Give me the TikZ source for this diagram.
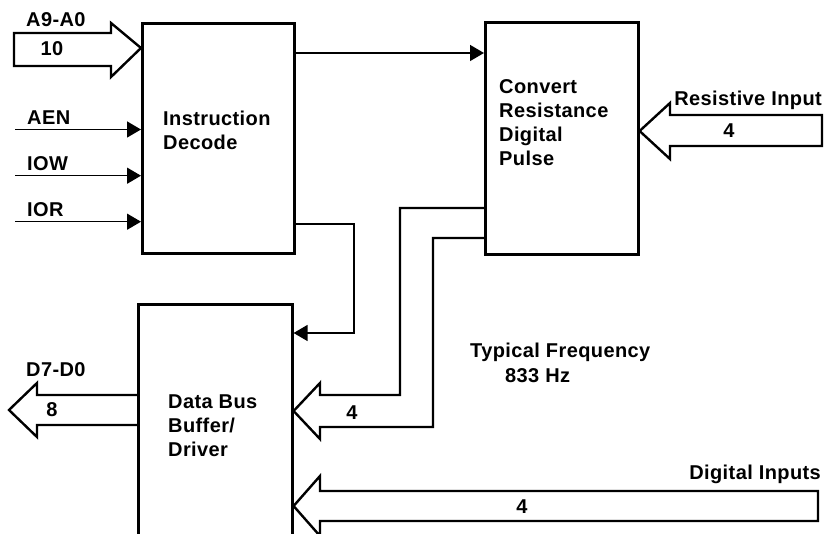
\documentclass[tikz,border=0pt]{standalone}
\usepackage{fontspec}
\setmainfont{Liberation Sans}[LetterSpace=2]
\usetikzlibrary{arrows.meta}
\begin{document}
\begin{tikzpicture}[x=1pt,y=-1pt,
  blk/.style={draw, line width=2.6pt, rectangle, inner sep=0pt, anchor=north west},
  bus/.style={draw, line width=2.4pt, line join=miter},
  sig/.style={line width=1.5pt, -{Triangle[length=14pt,width=16pt]}},
  lbl/.style={font=\fontsize{20}{23.8}\selectfont\bfseries, inner sep=0pt, align=left}]
\useasboundingbox (0,0) rectangle (825,534);
% blocks
\node[blk, minimum width=152pt, minimum height=230pt] (id) at (141,22) {};
\node[blk, minimum width=153pt, minimum height=232pt] (cv) at (484,21) {};
\node[blk, minimum width=154pt, minimum height=232pt] (db) at (137,303) {};
% block texts
\node[lbl, anchor=west] (idt) at (163,130.5) {Instruction\\Decode};
\node[lbl, anchor=west] (cvt) at (499,122.5) {Convert\\Resistance\\Digital\\Pulse};
\node[lbl, anchor=west] (dbt) at (168,426) {Data Bus\\Buffer/\\Driver};
% A9-A0 bus
\coordinate (a9tip) at (id.north west |- 0,48);
\draw[bus] (14,33) -- (111,33) -- (111,23) -- (a9tip) -- (111,77) -- (111,66) -- (14,66) -- cycle;
\node[lbl, anchor=west] (a9l) at (26,20) {A9-A0};
\node[lbl] (a9n) at (52,49) {10};
% control inputs
\coordinate (aen) at (15,129.5);
\coordinate (iow) at (15,175.7);
\coordinate (ior) at (15,221.7);
\draw[sig] (aen) -- (aen -| id.west);
\draw[sig] (iow) -- (iow -| id.west);
\draw[sig] (ior) -- (ior -| id.west);
\node[lbl, anchor=west] (aenl) at (27,117.5) {AEN};
\node[lbl, anchor=west] (iowl) at (27,164) {IOW};
\node[lbl, anchor=west] (iorl) at (27,209.7) {IOR};
% decode -> convert
\draw[sig] (id.north east |- 0,53) -- (cv.north west |- 0,53);
% decode -> data bus
\draw[sig] (id.north east |- 0,224) -- (354,224) -- (354,333) -- (db.north east |- 0,333);
% resistive input bus
\coordinate (rtip) at (cv.north east |- 0,131);
\draw[bus] (822,115) -- (670,115) -- (670,103) -- (rtip) -- (670,159) -- (670,146) -- (822,146) -- cycle;
\node[lbl, anchor=east] (rl) at (822,100) {Resistive Input};
\node[lbl] (rn) at (729,131) {4};
% convert -> data bus bus
\coordinate (ctip) at (db.north east |- 0,411);
\draw[bus] (cv.north west |- 0,208) -- (400,208) -- (400,395) -- (320,395) -- (320,383)
  -- (ctip) -- (320,439) -- (320,427) -- (433,427) -- (433,238) -- (cv.north west |- 0,238);
\node[lbl] (cn) at (352,413) {4};
% frequency
\node[lbl, anchor=west] (tf) at (470,352) {Typical Frequency};
\node[lbl, anchor=west] (hz) at (505,376) {833 Hz};
% D7-D0 bus
\coordinate (dtip) at (9,410);
\draw[bus] (db.north west |- 0,395) -- (37,395) -- (37,383) -- (dtip) -- (37,437) -- (37,425) -- (db.north west |- 0,425);
\node[lbl, anchor=west] (dl) at (26,369.5) {D7-D0};
\node[lbl] (dn) at (52,410) {8};
% digital inputs bus
\coordinate (gtip) at (db.north east |- 0,506);
\draw[bus] (818,491) -- (320,491) -- (320,476) -- (gtip) -- (320,536) -- (320,521) -- (818,521) -- cycle;
\node[lbl, anchor=east] (gl) at (821,474) {Digital Inputs};
\node[lbl] (gn) at (522,507) {4};
\end{tikzpicture}
\end{document}
